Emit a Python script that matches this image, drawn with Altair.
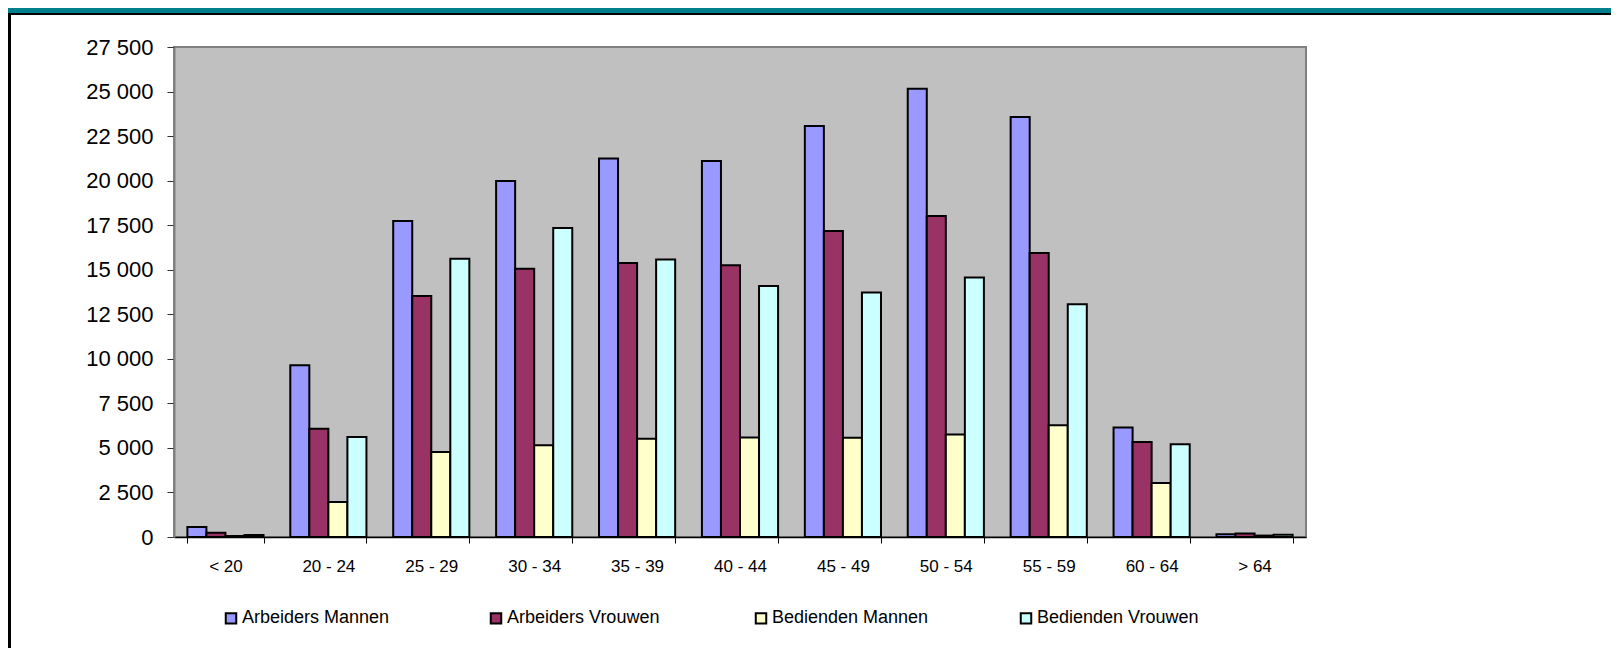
import altair as alt
import pandas as pd

categories = ["< 20", "20 - 24", "25 - 29", "30 - 34", "35 - 39", "40 - 44",
              "45 - 49", "50 - 54", "55 - 59", "60 - 64", "> 64"]
series_names = ["Arbeiders Mannen", "Arbeiders Vrouwen", "Bedienden Mannen", "Bedienden Vrouwen"]
arbeiders_mannen = [560, 9640, 17730, 19980, 21240, 21100, 23070, 25160, 23570, 6140, 150]
arbeiders_vrouwen = [240, 6080, 13530, 15060, 15380, 15250, 17170, 18010, 15940, 5330, 200]
bedienden_mannen = [60, 1960, 4770, 5150, 5520, 5580, 5570, 5750, 6270, 3030, 80]
bedienden_vrouwen = [110, 5610, 15620, 17340, 15570, 14090, 13720, 14560, 13060, 5200, 130]
colors = ["#9999FF", "#993366", "#FFFFCC", "#CCFFFF"]
y_ticks = list(range(0, 27501, 2500))

rows = []
for name, vals in zip(series_names, [arbeiders_mannen, arbeiders_vrouwen, bedienden_mannen, bedienden_vrouwen]):
    for c, v in zip(categories, vals):
        rows.append({"leeftijd": c, "reeks": name, "aantal": v})
df = pd.DataFrame(rows)

W, H = 1132, 490
PAD_L, PAD_T, PAD_R, PAD_B = 166, 39, 305, 111
FONT = "Liberation Sans"

bars = alt.Chart(df).mark_bar(stroke="black", strokeWidth=2, opacity=1).encode(
    x=alt.X("leeftijd:N", sort=categories, title=None,
            scale=alt.Scale(paddingInner=0.26, paddingOuter=0.13),
            axis=alt.Axis(labelAngle=0, tickBand="extent", tickSize=6, labelPadding=15,
                          labelFontSize=17, labelFont=FONT, labelColor="black",
                          domainColor="black", tickColor="black", domainWidth=1.5)),
    xOffset=alt.XOffset("reeks:N", sort=series_names,
                        scale=alt.Scale(paddingInner=0, paddingOuter=0)),
    y=alt.Y("aantal:Q", title=None, scale=alt.Scale(domain=[0, 27500], nice=False),
            axis=alt.Axis(values=y_ticks, grid=False, tickSize=7, labelPadding=14,
                          labelFontSize=22, labelFont=FONT, labelColor="black",
                          labelExpr="replace(format(datum.value, ','), ',', ' ')",
                          domainColor="#808080", domainWidth=2, tickColor="#333333")),
    color=alt.Color("reeks:N", sort=series_names,
                    scale=alt.Scale(domain=series_names, range=colors),
                    legend=alt.Legend(title=None, orient="none", legendX=48, legendY=562,
                                      direction="horizontal", columns=4, gridAlign="all",
                                      columnPadding=82, symbolType="square", symbolSize=110,
                                      symbolStrokeColor="black", symbolStrokeWidth=2,
                                      symbolOpacity=1, labelFontSize=18, labelFont=FONT,
                                      labelColor="black", labelOffset=2, labelLimit=400)),
)

one = pd.DataFrame({"k": [0]})
band = alt.Chart(one).mark_rect(color="#007F8C").encode(
    x=alt.value(-PAD_L), x2=alt.value(W + PAD_R), y=alt.value(-PAD_T), y2=alt.value(-PAD_T + 5))
topline = alt.Chart(one).mark_rect(color="black").encode(
    x=alt.value(-PAD_L), x2=alt.value(W + PAD_R), y=alt.value(-PAD_T + 5), y2=alt.value(-PAD_T + 7))
leftline = alt.Chart(one).mark_rect(color="black").encode(
    x=alt.value(-PAD_L), x2=alt.value(-PAD_L + 3), y=alt.value(-PAD_T + 5), y2=alt.value(H + PAD_B))

chart = alt.layer(band, topline, leftline, bars).properties(
    width=W, height=H,
    autosize=alt.AutoSizeParams(type="none"),
    padding={"left": PAD_L, "top": PAD_T, "right": PAD_R, "bottom": PAD_B},
    background="white",
).configure_view(fill="#C0C0C0", stroke="#808080", strokeWidth=2)

chart.save("out.html", embed_options={"renderer": "svg", "actions": False})
